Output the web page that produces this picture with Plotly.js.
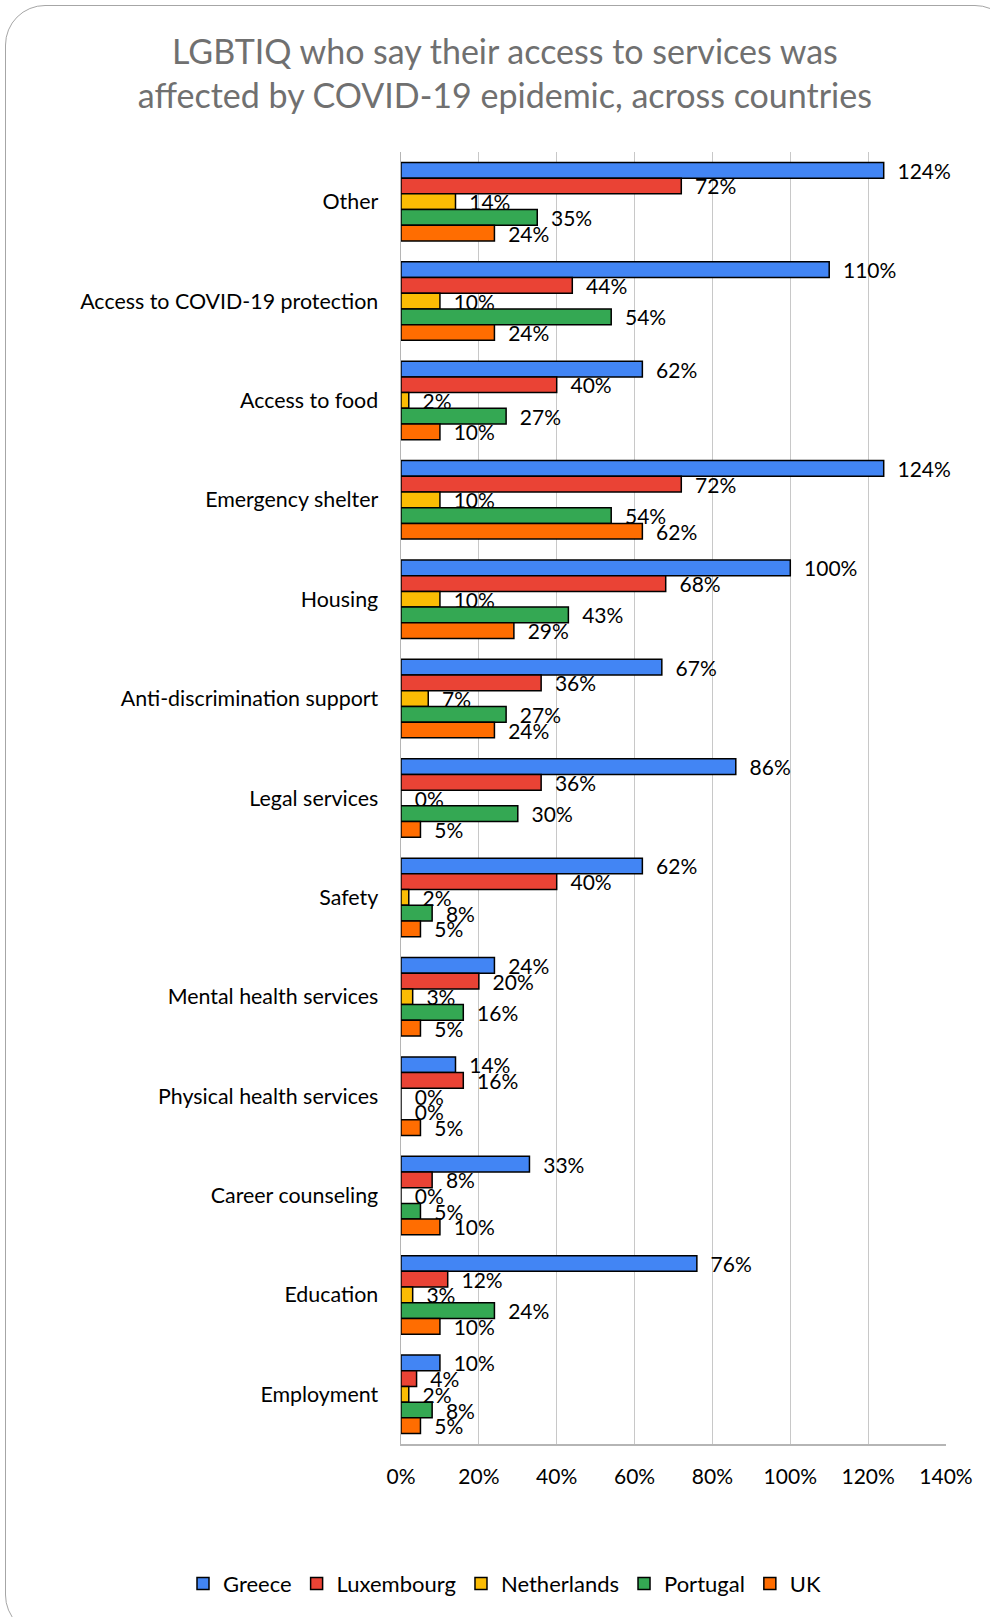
<!DOCTYPE html>
<html>
<head>
<meta charset="utf-8">
<script src="https://cdn.plot.ly/plotly-3.0.1.min.js"></script>
<style>
html,body{margin:0;padding:0;background:#fff;overflow:hidden;}
#chart{width:990px;height:1617px;}
#frame{position:absolute;left:5px;top:5px;width:1010px;height:1630px;border:1.5px solid #a6a6a6;border-radius:40px;pointer-events:none;box-sizing:border-box;}
</style>
</head>
<body>
<div id="chart"></div>
<div id="frame"></div>
<script>
const categories = ["Other","Access to COVID-19 protection","Access to food","Emergency shelter","Housing","Anti-discrimination support","Legal services","Safety","Mental health services","Physical health services","Career counseling","Education","Employment"];
const seriesNames = ["Greece","Luxembourg","Netherlands","Portugal","UK"];
const greece      = [124,110,62,124,100,67,86,62,24,14,33,76,10];
const luxembourg  = [72,44,40,72,68,36,36,40,20,16,8,12,4];
const netherlands = [14,10,2,10,10,7,0,2,3,0,0,3,2];
const portugal    = [35,54,27,54,43,27,30,8,16,0,5,24,8];
const uk          = [24,24,10,62,29,24,5,5,5,5,10,10,5];
const xTicks = [0,20,40,60,80,100,120,140];
const colors = ["#4285F4","#EA4335","#FBBC04","#34A853","#FF6D01"];
const allValues = [greece,luxembourg,netherlands,portugal,uk];

const FONT = "Lato, 'Open Sans', sans-serif";
const traces = seriesNames.map((name,i)=>({
  type:"bar",
  orientation:"h",
  name:name,
  y:categories,
  x:allValues[i],
  marker:{color:colors[i],line:{color:"#000",width:1.5}},
  text:allValues[i].map(v=>"\u00a0\u00a0"+v+"%"),
  texttemplate:"%{text}",
  textposition:"outside",
  cliponaxis:false,
  constraintext:"none",
  textfont:{family:FONT,size:21,color:"#000"},
  hoverinfo:"skip"
}));

const layout = {
  width:990,height:1617,
  paper_bgcolor:"rgba(0,0,0,0)",
  plot_bgcolor:"rgba(0,0,0,0)",
  margin:{l:401,r:44,t:152,b:171},
  barmode:"group",
  bargap:0.21,
  bargroupgap:0,
  title:{text:"LGBTIQ who say their access to services was<br>affected by COVID-19 epidemic, across countries",
    font:{family:FONT,size:34,color:"#707070"},
    x:0.51,xref:"container",xanchor:"center",
    y:1-64/1617,yref:"container",yanchor:"middle"},
  xaxis:{range:[0,140],tickvals:xTicks,ticktext:xTicks.map(v=>v+"%"),
    showgrid:true,gridcolor:"#c8c8c8",gridwidth:1,zeroline:false,
    showline:true,linecolor:"#b5b5b5",linewidth:1.5,ticks:"",ticklabelstandoff:13,
    tickfont:{family:FONT,size:21,color:"#000"},fixedrange:true},
  yaxis:{type:"category",autorange:"reversed",showgrid:false,zeroline:false,
    showline:true,linecolor:"#b5b5b5",linewidth:1.5,ticks:"",ticklabelstandoff:17,
    tickfont:{family:FONT,size:21.4,color:"#000"},fixedrange:true},
  legend:{orientation:"h",xref:"paper",x:-0.40,xanchor:"left",
    yref:"paper",y:-(1586-1446)/1294,yanchor:"middle",
    font:{family:FONT,size:22,color:"#000"},itemwidth:30,traceorder:"normal"},
  showlegend:true
};

Plotly.newPlot("chart",traces,layout,{staticPlot:true});
</script>
</body>
</html>
